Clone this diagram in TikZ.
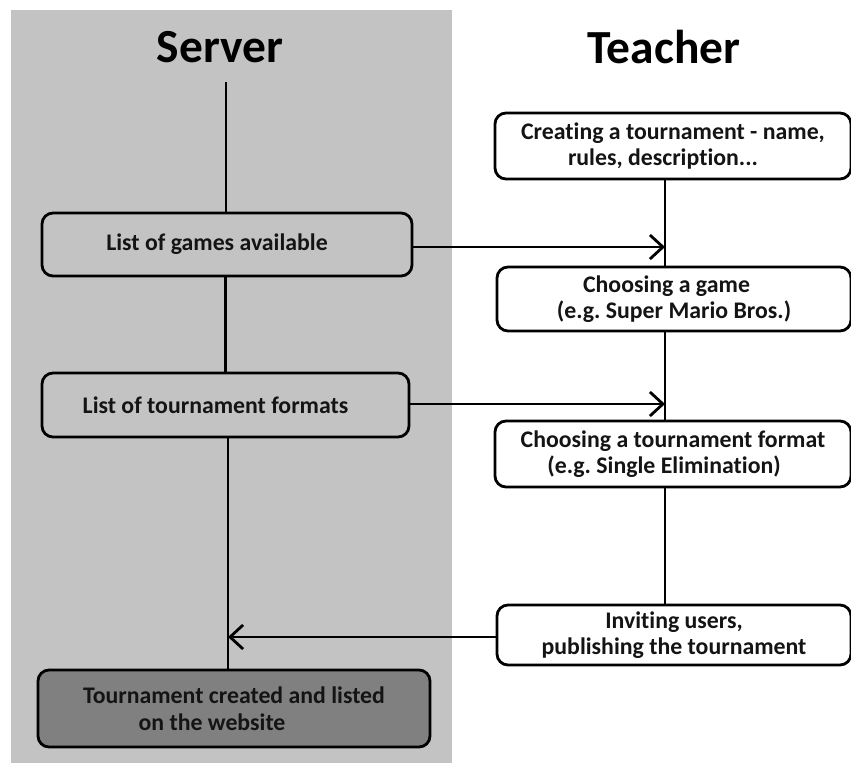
\documentclass[tikz,border=0pt]{standalone}
\usepackage{fontspec}
\setmainfont{Carlito}[Ligatures=NoCommon]
\usetikzlibrary{arrows.meta}
\definecolor{panelgray}{RGB}{195,195,195}
\definecolor{donefill}{RGB}{128,128,128}
\begin{document}
\begin{tikzpicture}[x=1pt,y=-1pt,
  box/.style={draw=black, line width=2.8pt, rounded corners=11pt,
    font=\bfseries\fontsize{23.8}{26.5}\selectfont, align=center,
    inner sep=0pt, text=black!92},
  title/.style={font=\bfseries\fontsize{47.5}{50}\selectfont, text=black},
  link/.style={line width=2.8pt},
  arr/.style={line width=2.8pt,
    -{Straight Barb[length=13pt,width=24pt,line width=2.8pt]}},
]
\useasboundingbox (0,0) rectangle (851,763);

% server lane
\fill[panelgray] (11,10) rectangle (452,763);

\node[title] (hsrv) at (220,47) {Server};
\node[title] (htch) at (664,47) {Teacher};

% server steps
\node[box, minimum width=370pt, minimum height=63pt] (s1) at (227,244.5)
  {\hspace*{-20pt}List of games available};
\node[box, minimum width=367pt, minimum height=64pt] (s2) at (225.5,405)
  {\hspace*{-20pt}List of tournament formats};
\node[box, fill=donefill, minimum width=392pt, minimum height=77pt] (s3) at (234,708.5)
  {Tournament created and listed\\\hspace*{-44pt}on the website};

% teacher steps
\node[box, fill=white, minimum width=356pt, minimum height=66pt] (t1) at (673,146)
  {Creating a tournament - name,\\\hspace*{-20pt}rules, description...};
\node[box, fill=white, minimum width=354pt, minimum height=64pt] (t2) at (674,299)
  {\hspace*{-15pt}Choosing a game\\(e.g.\ Super Mario Bros.)};
\node[box, fill=white, minimum width=356pt, minimum height=66pt] (t3) at (673,454)
  {Choosing a tournament format\\\hspace*{-18pt}(e.g.\ Single Elimination)};
\node[box, fill=white, minimum width=354pt, minimum height=60pt] (t4) at (674,635)
  {Inviting users,\\publishing the tournament};

% spine positions
\coordinate (srvtop) at (226,82);
\coordinate (sx) at (228,637);
\coordinate (tx) at (665,0);

% server spine
\draw[link] (srvtop) -- (srvtop |- s1.north);
\draw[link] (s2.north |- s1.south) -- (s2.north);
\draw[link] (s2.south -| sx) -- (s3.north -| sx);

% teacher spine
\draw[link] (t1.south -| tx) -- (t2.north -| tx);
\draw[link] (t2.south -| tx) -- (t3.north -| tx);
\draw[link] (t3.south -| tx) -- (t4.north -| tx);

% hand-overs between lanes
\draw[arr] ([yshift=-2.5pt]s1.east) -- ([yshift=-2.5pt]s1.east -| tx);
\draw[arr] ([yshift=1pt]s2.east) -- ([yshift=1pt]s2.east -| tx);
\draw[arr] ([yshift=-2pt]t4.west) -- ([yshift=-2pt]t4.west -| sx);
\end{tikzpicture}
\end{document}
